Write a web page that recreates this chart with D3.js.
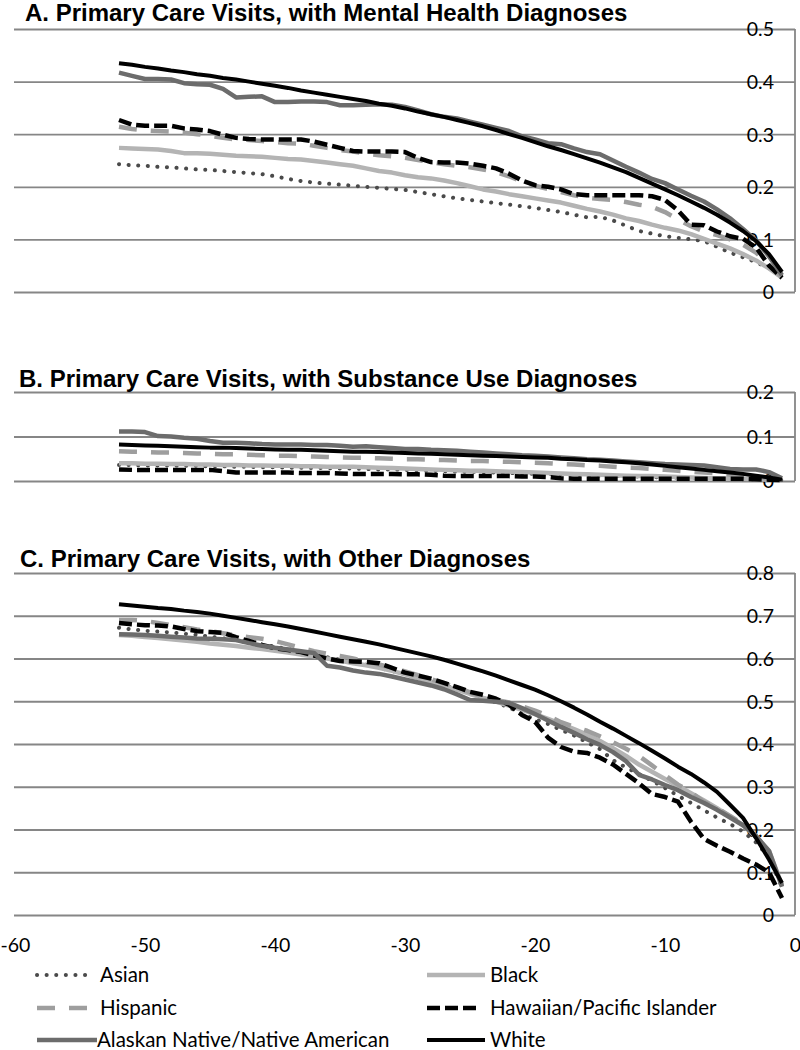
<!DOCTYPE html>
<html><head><meta charset="utf-8">
<script src="https://cdn.jsdelivr.net/npm/d3@7"></script>
<style>
html,body{margin:0;padding:0;background:#fff;}
svg{display:block;}
</style></head>
<body>
<svg id="chart" width="800" height="1050"></svg>
<script>
// ---------- DATA ----------
const weeks = [-52,-51,-50,-49,-48,-47,-46,-45,-44,-43,-42,-41,-40,-39,-38,-37,-36,-35,-34,-33,-32,-31,-30,-29,-28,-27,-26,-25,-24,-23,-22,-21,-20,-19,-18,-17,-16,-15,-14,-13,-12,-11,-10,-9,-8,-7,-6,-5,-4,-3,-2,-1];
const seriesNames = ["Asian","Black","Hispanic","Hawaiian/Pacific Islander","Alaskan Native/Native American","White"];
const panelTitles = ["A. Primary Care Visits, with Mental Health Diagnoses","B. Primary Care Visits, with Substance Use Diagnoses","C. Primary Care Visits, with Other Diagnoses"];
const xTicks = [-60,-50,-40,-30,-20,-10,0];
const yTicksA = [0,0.1,0.2,0.3,0.4,0.5];
const yTicksB = [0,0.1,0.2];
const yTicksC = [0,0.1,0.2,0.3,0.4,0.5,0.6,0.7,0.8];

// A. Mental health
const mhAsian = [.243,.241,.240,.238,.237,.235,.233,.232,.230,.228,.226,.224,.220,.215,.211,.208,.206,.204,.202,.200,.198,.196,.194,.190,.186,.182,.178,.175,.172,.169,.166,.163,.160,.156,.152,.147,.142,.143,.136,.126,.116,.111,.106,.103,.100,.097,.086,.075,.066,.057,.045,.030];
const mhBlack = [.274,.273,.272,.271,.268,.264,.264,.263,.261,.259,.258,.257,.255,.253,.252,.249,.246,.243,.240,.235,.230,.227,.222,.218,.216,.212,.207,.201,.195,.191,.186,.182,.178,.174,.170,.164,.158,.153,.147,.140,.135,.128,.122,.117,.110,.101,.092,.083,.072,.060,.045,.027];
const mhHispanic = [.314,.310,.307,.306,.305,.303,.300,.297,.293,.290,.289,.287,.285,.283,.282,.278,.274,.270,.267,.263,.260,.258,.255,.251,.247,.243,.240,.237,.233,.228,.220,.210,.202,.196,.190,.184,.179,.177,.175,.171,.166,.162,.152,.138,.125,.115,.108,.100,.090,.075,.052,.028];
const mhHawaiian = [.327,.318,.316,.316,.316,.311,.309,.306,.299,.293,.291,.290,.290,.290,.290,.286,.280,.274,.268,.267,.267,.267,.266,.255,.247,.246,.246,.244,.240,.235,.225,.212,.203,.200,.195,.186,.184,.184,.184,.184,.184,.182,.175,.155,.128,.127,.115,.106,.101,.085,.050,.027];
const mhAlaskan = [.417,.411,.405,.405,.404,.397,.395,.394,.386,.370,.371,.372,.361,.361,.362,.362,.361,.355,.355,.356,.357,.356,.352,.345,.338,.333,.330,.324,.318,.312,.306,.296,.290,.283,.281,.273,.266,.262,.250,.238,.227,.215,.207,.195,.183,.172,.157,.140,.120,.098,.068,.032];
const mhWhite = [.435,.432,.428,.425,.421,.418,.414,.411,.407,.404,.400,.396,.392,.388,.383,.379,.375,.371,.367,.363,.358,.354,.349,.343,.338,.333,.327,.321,.315,.308,.300,.293,.285,.277,.270,.262,.254,.246,.237,.228,.217,.206,.195,.184,.172,.160,.147,.132,.116,.097,.072,.038];

// B. Substance use
const suAsian = [.036,.036,.035,.035,.035,.034,.034,.033,.033,.032,.032,.031,.031,.030,.030,.029,.029,.028,.028,.027,.026,.026,.025,.024,.023,.022,.021,.021,.020,.019,.018,.017,.016,.016,.015,.014,.013,.012,.011,.011,.010,.009,.008,.008,.007,.006,.005,.005,.004,.003,.003,.002];
const suBlack = [.040,.040,.039,.039,.038,.038,.037,.037,.036,.036,.035,.035,.034,.034,.033,.033,.032,.032,.032,.031,.030,.029,.028,.027,.026,.025,.024,.023,.023,.022,.021,.020,.019,.018,.017,.016,.015,.014,.013,.012,.011,.011,.010,.009,.008,.007,.006,.005,.005,.004,.003,.002];
const suHispanic = [.067,.066,.065,.064,.064,.063,.062,.061,.060,.060,.059,.058,.057,.057,.056,.055,.054,.053,.052,.052,.051,.050,.049,.049,.048,.047,.046,.045,.045,.044,.043,.042,.041,.040,.038,.037,.035,.034,.032,.030,.029,.027,.025,.023,.021,.019,.017,.014,.011,.008,.005,.002];
const suHawaiian = [.026,.025,.025,.025,.025,.025,.025,.025,.022,.019,.019,.019,.019,.019,.018,.018,.018,.017,.016,.016,.016,.016,.015,.015,.014,.012,.011,.011,.011,.011,.011,.010,.010,.009,.006,.005,.005,.005,.005,.005,.005,.005,.005,.005,.005,.005,.005,.005,.005,.004,.003,.002];
const suAlaskan = [.111,.111,.110,.101,.100,.097,.095,.090,.086,.086,.085,.083,.082,.082,.082,.081,.081,.079,.077,.078,.076,.074,.072,.072,.070,.069,.068,.066,.064,.062,.060,.058,.057,.055,.053,.051,.049,.048,.046,.044,.042,.040,.038,.037,.036,.035,.031,.027,.026,.026,.020,.006];
const suWhite = [.082,.081,.080,.079,.078,.077,.076,.075,.075,.074,.073,.072,.071,.070,.070,.069,.068,.067,.066,.066,.065,.064,.063,.062,.061,.060,.059,.058,.057,.056,.055,.054,.053,.052,.050,.049,.047,.046,.044,.042,.040,.037,.034,.031,.028,.025,.022,.019,.016,.012,.008,.003];

// C. Other diagnoses
const otAsian = [.672,.668,.665,.663,.661,.658,.655,.651,.647,.643,.637,.632,.628,.622,.616,.610,.603,.597,.591,.585,.578,.571,.563,.555,.547,.538,.528,.518,.508,.497,.486,.470,.458,.447,.433,.420,.404,.388,.362,.345,.330,.314,.297,.279,.262,.245,.228,.213,.195,.170,.135,.065];
const otBlack = [.655,.653,.650,.648,.645,.642,.639,.635,.632,.629,.625,.622,.618,.614,.609,.605,.600,.595,.589,.584,.578,.571,.563,.554,.545,.536,.527,.517,.508,.499,.490,.480,.470,.459,.447,.435,.422,.407,.390,.372,.352,.335,.318,.302,.285,.268,.250,.230,.210,.183,.150,.070];
const otHispanic = [.690,.690,.688,.683,.678,.673,.668,.664,.659,.654,.650,.646,.641,.633,.625,.617,.611,.606,.600,.593,.586,.578,.570,.561,.552,.542,.532,.521,.510,.503,.497,.488,.478,.466,.451,.440,.431,.418,.404,.389,.372,.350,.327,.305,.287,.265,.250,.232,.212,.185,.145,.068];
const otHawaiian = [.683,.680,.678,.677,.675,.669,.664,.662,.660,.650,.641,.632,.624,.620,.615,.607,.600,.594,.593,.592,.589,.578,.567,.560,.553,.543,.533,.522,.515,.506,.492,.468,.452,.415,.393,.382,.379,.368,.352,.330,.308,.283,.276,.265,.218,.178,.162,.148,.132,.118,.100,.040];
const otAlaskan = [.657,.656,.655,.653,.651,.649,.647,.646,.645,.643,.636,.630,.625,.621,.617,.613,.583,.579,.572,.567,.564,.558,.551,.544,.537,.528,.516,.503,.501,.499,.496,.484,.470,.455,.440,.426,.411,.398,.381,.360,.328,.317,.304,.292,.276,.262,.246,.228,.210,.185,.150,.066];
const otWhite = [.727,.724,.721,.718,.716,.712,.709,.705,.700,.695,.690,.685,.680,.675,.669,.663,.657,.651,.645,.639,.633,.626,.619,.612,.605,.597,.588,.579,.570,.560,.549,.538,.527,.514,.500,.485,.469,.452,.436,.419,.402,.384,.366,.347,.330,.310,.288,.258,.227,.180,.130,.075];

// ---------- STYLES ----------
const styles = [
  {color:"#4a4a4a", width:4, dash:"0.1,9.5", cap:"round"},   // Asian
  {color:"#b4b4b4", width:4.5, dash:null, cap:"butt"},        // Black
  {color:"#9e9e9e", width:4.5, dash:"18,14", cap:"butt"},     // Hispanic
  {color:"#000000", width:4.5, dash:"13,5", cap:"butt"},      // Hawaiian
  {color:"#6c6c6c", width:4.5, dash:null, cap:"butt"},        // Alaskan
  {color:"#000000", width:4, dash:null, cap:"butt"}           // White
];

const panels = [
  {title:panelTitles[0], ticks:yTicksA, top:29, bottom:292, titleX:25, titleY:21,
   data:[mhAsian,mhBlack,mhHispanic,mhHawaiian,mhAlaskan,mhWhite]},
  {title:panelTitles[1], ticks:yTicksB, top:392, bottom:481, titleX:19, titleY:387,
   data:[suAsian,suBlack,suHispanic,suHawaiian,suAlaskan,suWhite]},
  {title:panelTitles[2], ticks:yTicksC, top:573, bottom:915, titleX:20, titleY:567,
   data:[otAsian,otBlack,otHispanic,otHawaiian,otAlaskan,otWhite]}
];

const svg = d3.select("#chart");
const x = d3.scaleLinear().domain([-60,0]).range([15,795]);
const left = 14, right = 795;
const labelFont = "Lato, 'Open Sans', sans-serif";
const fmt = d => d === 0 ? "0" : d3.format(".1f")(d);

panels.forEach(p => {
  const yMax = p.ticks[p.ticks.length-1];
  const y = d3.scaleLinear().domain([0,yMax]).range([p.bottom,p.top]);
  const g = svg.append("g");

  const ax = g.append("g").attr("transform",`translate(${right},0)`)
    .call(d3.axisLeft(y).tickValues(p.ticks).tickSize(right-left).tickFormat(fmt));
  ax.select(".domain").remove();
  ax.selectAll(".tick line").attr("stroke","#868686").attr("stroke-width",1.8);
  ax.selectAll(".tick text")
    .attr("x",-21).attr("dy","0.35em").attr("text-anchor","end")
    .attr("font-family",labelFont).attr("font-size",19.5).attr("fill","#000");
  g.append("line").attr("x1",right).attr("x2",right).attr("y1",p.top).attr("y2",p.bottom)
    .attr("stroke","#868686").attr("stroke-width",1.8);

  g.append("text").attr("x",p.titleX).attr("y",p.titleY).text(p.title)
    .attr("font-family","'Liberation Sans', Arial, sans-serif").attr("font-weight","bold")
    .attr("font-size",24).attr("fill","#000");

  const line = d3.line().x((d,i)=>x(weeks[i])).y(d=>y(d));
  p.data.forEach((arr,si) => {
    const s = styles[si];
    g.append("path").datum(arr).attr("d",line)
      .attr("fill","none").attr("stroke",s.color).attr("stroke-width",s.width)
      .attr("stroke-dasharray",s.dash).attr("stroke-linecap",s.cap)
      .attr("stroke-linejoin","round");
  });
});

const xa = svg.append("g").attr("transform","translate(0,915)")
  .call(d3.axisBottom(x).tickValues(xTicks).tickSize(0).tickFormat(d=>String(d)));
xa.select(".domain").remove();
xa.selectAll(".tick text").attr("y",37).attr("dy",0)
  .attr("font-family",labelFont).attr("font-size",19.5).attr("fill","#000");

const legendPos = [
  {x:37, y:975, len:52},
  {x:427, y:975, len:58},
  {x:37, y:1008, len:53},
  {x:427, y:1008, len:51},
  {x:37, y:1040, len:60},
  {x:427, y:1040, len:58}
];
const textX = [100,490,100,490,97,490];
seriesNames.forEach((name,i) => {
  const s = styles[i], lp = legendPos[i];
  const lg = svg.append("g");
  lg.append("line").attr("x1",lp.x).attr("x2",lp.x+lp.len).attr("y1",lp.y).attr("y2",lp.y)
    .attr("stroke",s.color).attr("stroke-width",s.width)
    .attr("stroke-dasharray",s.dash).attr("stroke-linecap",s.cap);
  lg.append("text").attr("x",textX[i]).attr("y",lp.y+7).text(name)
    .attr("font-family",labelFont).attr("font-size",20.5).attr("fill","#000");
});
</script>
</body></html>
